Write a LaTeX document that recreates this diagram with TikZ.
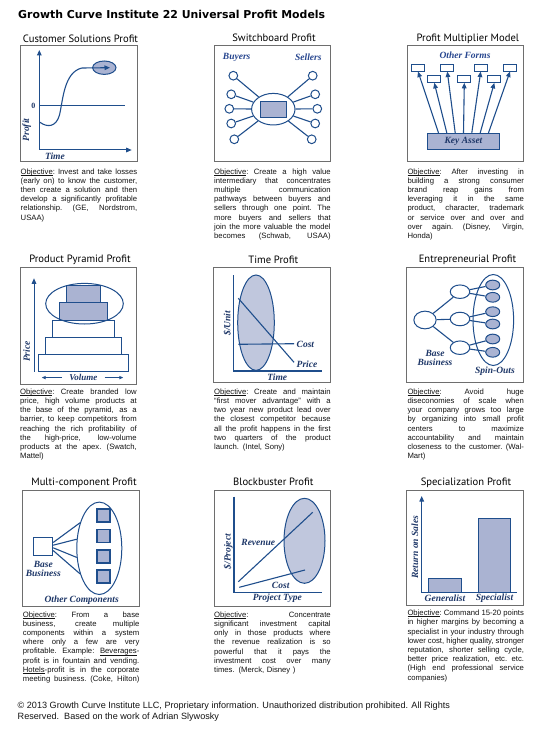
\documentclass[tikz,border=0pt]{standalone}
\usepackage{fontspec}
\setmainfont{Liberation Sans}
\newfontfamily\titlefont{DejaVu Sans}
\newfontfamily\headfont{PT Sans}
\newfontfamily\labfont{Liberation Serif}
\usetikzlibrary{arrows.meta,shapes.geometric}
\definecolor{lb}{HTML}{1F4E8C}
\definecolor{fillb}{HTML}{AAB3D2}
\definecolor{fillc}{HTML}{C0C7DD}
\definecolor{framec}{HTML}{6E6E6E}
\definecolor{navy}{HTML}{1E3768}
\definecolor{labblue}{HTML}{27468F}
\definecolor{txtc}{HTML}{141414}
\newlength\tw \setlength\tw{116.5pt}
\newcommand\jl[1]{\leavevmode\hbox to\tw{\spaceskip=0.278em plus 6em minus 0.08em\xspaceskip=\spaceskip #1}}
\newcommand\ul[1]{\setbox0=\hbox{#1}\rlap{\rule[-1.2pt]{\wd0}{0.5pt}}\box0}
\tikzset{
  panel/.style={draw=framec, line width=0.8pt, fill=white},
  ptitle/.style={font=\headfont\fontsize{10.6}{11}\selectfont, text=black, inner sep=0},
  body/.style={anchor=north west, inner sep=0, text width=\tw, align=left, font=\fontsize{7.7}{9.2}\selectfont, text=txtc},
  lab/.style={font=\labfont\bfseries\itshape\fontsize{9.5}{9}\selectfont, text=navy, inner sep=0, align=center},
  ln/.style={draw=lb, line width=1.1pt},
  arr/.style={ln, -{Triangle[length=5.5pt,width=4.6pt]}},
  sarr/.style={ln, line width=0.9pt, -{Triangle[length=4pt,width=3.2pt]}},
  circ/.style={circle, draw=lb, line width=1pt, fill=white, minimum size=8.7pt, inner sep=0},
  fbox/.style={rectangle, draw=lb, line width=1pt, fill=white, minimum width=12.7pt, minimum height=6.7pt, inner sep=0},
  oval/.style={ellipse, draw=lb, line width=1pt, fill=white, inner sep=0},
  spin/.style={ellipse, draw=lb, line width=1pt, fill=fillb, minimum width=14pt, minimum height=9.7pt, inner sep=0},
  sq/.style={rectangle, draw=lb, line width=1.5pt, fill=fillb, minimum size=13pt, inner sep=0},
  stepbox/.style={draw=lb, line width=1pt},
}
\begin{document}
\begin{tikzpicture}[x=1pt,y=-1pt]
\fill[white] (0,0) rectangle (547,735);
\useasboundingbox (0,0) rectangle (547,735);

\node[anchor=west, inner sep=0, font=\titlefont\bfseries\fontsize{10.9}{12}\selectfont] (title) at (18,14.5) {Growth Curve Institute 22 Universal Profit Models};

% ===== Panel 1 : Customer Solutions =====
\draw[panel] (20,45.7) rectangle (137,161.7);
\node[ptitle] (h1) at (80.5,38.5) {Customer Solutions Profit};
\node[ellipse, draw=lb, fill=fillb, line width=1pt, minimum width=23.4pt, minimum height=13.4pt, inner sep=0] (goal) at (104.3,67.7) {};
\coordinate (o1) at (39.3,150);
\coordinate (y1) at (39.3,50);
\coordinate (x1) at (131.7,150);
\coordinate (z0) at (39.3,105.7);
\coordinate (z1) at (125,105.7);
\coordinate (g1) at (110,67.7);
\draw[ln] (z0) -- (z1);
\draw[arr, line width=1pt] (o1) -- (y1);
\draw[arr, line width=1pt] (o1) -- (x1);
\draw[arr] (40,122.3) .. controls (47,127.5) and (56,127.5) .. (59.5,115) .. controls (63,100) and (64,72) .. (82,68) -- (g1);
\node[font=\labfont\bfseries\fontsize{8}{8}\selectfont, text=navy, inner sep=0] (zero) at (33.3,105.7) {0};
\node[lab, rotate=90] (profit) at (26.7,130) {Profit};
\node[lab] (time1) at (55,156) {Time};
\node[body] (t1) at (20.5,168.3) {\jl{\ul{Objective}: Invest and take losses}\\
\jl{(early on) to know the customer,}\\
\jl{then create a solution and then}\\
\jl{develop a significantly profitable}\\
\jl{relationship. (GE, Nordstrom,}\\
USAA)};

% ===== Panel 2 : Switchboard =====
\draw[panel] (214,45.7) rectangle (330.7,161.5);
\node[ptitle] (h2) at (274,38) {Switchboard Profit};
\node[lab, text=labblue] (buy) at (236.7,57.7) {Buyers};
\node[lab, text=labblue] (sell) at (308.3,57.7) {Sellers};
\node[oval, minimum width=43.4pt, minimum height=31.6pt] (hub) at (273.3,109.2) {};
\node[draw=lb, fill=fillb, line width=1pt, minimum width=26pt, minimum height=15.6pt, inner sep=0] (sw) at (273.7,109.5) {};
\node[circ] (l1) at (233.3,75.7) {};
\node[circ] (l2) at (231.2,94.3) {};
\node[circ] (l3) at (229.3,108.8) {};
\node[circ] (l4) at (231.2,123.5) {};
\node[circ] (l5) at (234.3,139.3) {};
\node[circ] (r1) at (312.7,75.7) {};
\node[circ] (r2) at (315.2,94.3) {};
\node[circ] (r3) at (317.3,108.8) {};
\node[circ] (r4) at (315.2,123.5) {};
\node[circ] (r5) at (311.7,139.3) {};
\foreach \i in {1,...,5} {\draw[ln] (l\i) -- (hub); \draw[ln] (r\i) -- (hub);}
\node[body] (t2) at (214,168.3) {\jl{\ul{Objective}: Create a high value}\\
\jl{intermediary that concentrates}\\
\jl{multiple communication}\\
\jl{pathways between buyers and}\\
\jl{sellers through one point. The}\\
\jl{more buyers and sellers that}\\
\jl{join the more valuable the model}\\
\jl{becomes (Schwab, USAA)}};

% ===== Panel 3 : Profit Multiplier =====
\draw[panel] (407,45.7) rectangle (523,161);
\node[ptitle] (h3) at (467.8,38.5) {Profit Multiplier Model};
\node[lab, text=labblue] (of) at (465,55.5) {Other Forms};
\node[fbox] (f1) at (418,67.7) {};
\node[fbox] (f3) at (447.3,67.7) {};
\node[fbox] (f5) at (480.7,67.7) {};
\node[fbox] (f7) at (510,67.7) {};
\node[fbox] (f2) at (434.3,79) {};
\node[fbox] (f4) at (464.3,79) {};
\node[fbox] (f6) at (494.3,79) {};
\node[lab, draw=lb, fill=fillb, line width=1pt, minimum width=72.6pt, minimum height=15.7pt] (ka) at (463.5,141.2) {Key Asset};
\foreach \t/\dx in {f1/-25pt, f2/-16.7pt, f3/-8.3pt, f4/0pt, f5/8.3pt, f6/16.7pt, f7/25pt}
  \draw[arr] ([xshift=\dx]ka.north) -- (\t.south);
\node[body] (t3) at (407.3,168.3) {\jl{\ul{Objective}: After investing in}\\
\jl{building a strong consumer}\\
\jl{brand reap gains from}\\
\jl{leveraging it in the same}\\
\jl{product, character, trademark}\\
\jl{or service over and over and}\\
\jl{over again. (Disney, Virgin,}\\
Honda)};

% ===== Panel 4 : Product Pyramid =====
\draw[panel] (20,267.7) rectangle (136.7,384);
\node[ptitle] (h4) at (80,260) {Product Pyramid Profit};
\draw[stepbox, fill=white] (38.3,354) rectangle (128.3,371);
\draw[stepbox, fill=white] (45.7,337.3) rectangle (121,354);
\draw[stepbox, fill=white] (52.3,320) rectangle (114.3,337.3);
\draw[stepbox, fill=fillb] (59.3,302.3) rectangle (107.3,320);
\draw[stepbox, fill=fillb] (66,285.7) rectangle (100.7,302.3);
\draw[ln, line width=1pt] (84.5,303.7) ellipse [x radius=38.8pt, y radius=20.3pt];
\coordinate (o4) at (34,371.7);
\coordinate (y4) at (34,278.3);
\draw[arr, line width=1pt] (o4) -- (y4);
\node[lab, rotate=90] (price4) at (26.7,351.7) {Price};
\node[lab, font=\labfont\bfseries\itshape\fontsize{9}{9}\selectfont] (vol) at (83.3,377.6) {Volume};
\coordinate (vl) at (41.7,377.6);
\coordinate (vr) at (123.3,377.6);
\draw[sarr] ([xshift=-7pt]vol.west) -- (vl);
\draw[sarr] ([xshift=7pt]vol.east) -- (vr);
\node[body] (t4) at (20,388.5) {\jl{\ul{Objective}: Create branded low}\\
\jl{price, high volume products at}\\
\jl{the base of the pyramid, as a}\\
\jl{barrier, to keep competitors from}\\
\jl{reaching the rich profitability of}\\
\jl{the high-price, low-volume}\\
\jl{products at the apex. (Swatch,}\\
Mattel)};

% ===== Panel 5 : Time Profit =====
\draw[panel] (213.5,267.7) rectangle (330.7,382.7);
\node[ptitle] (h5) at (273.3,259.5) {Time Profit};
\draw[ln, line width=1pt, fill=fillc] (256,322.7) ellipse [x radius=18.3pt, y radius=47.7pt];
\coordinate (p5a) at (238.3,298.3);
\coordinate (p5b) at (294,362.3);
\coordinate (c5a) at (238.3,344.3);
\coordinate (c5b) at (294,343.7);
\draw[ln] (p5a) -- (p5b);
\draw[ln] (c5a) -- (c5b);
\draw[ln] (233.3,275) -- (233.3,371) -- (321.7,371);
\node[lab, rotate=90] (unit) at (227.3,323.3) {\$/Unit};
\node[lab] (time5) at (277.3,377) {Time};
\node[lab, anchor=west] (cost5) at (296.5,344.3) {Cost};
\node[lab, anchor=west] (price5) at (296.5,364) {Price};
\node[body] (t5) at (214,388.5) {\jl{\ul{Objective}: Create and maintain}\\
\jl{“first mover advantage” with a}\\
\jl{two year new product lead over}\\
\jl{the closest competitor because}\\
\jl{all the profit happens in the first}\\
\jl{two quarters of the product}\\
launch. (Intel, Sony)};

% ===== Panel 6 : Entrepreneurial =====
\draw[panel] (406.7,267.7) rectangle (523.3,382.7);
\node[ptitle] (h6) at (467.5,259.5) {Entrepreneurial Profit};
\draw[ln, line width=1pt] (493.3,320) ellipse [x radius=20.3pt, y radius=45.5pt];
\node[oval, minimum width=22.3pt, minimum height=17.7pt] (bs) at (425,320) {};
\node[oval, minimum width=19.5pt, minimum height=13.5pt] (m1) at (460,291.7) {};
\node[oval, minimum width=19.5pt, minimum height=13.5pt] (m2) at (460,319) {};
\node[oval, minimum width=19.5pt, minimum height=13.5pt] (m3) at (460,347.7) {};
\node[spin] (s1) at (492.7,285) {};
\node[spin] (s2) at (492.7,297.3) {};
\node[spin] (s3) at (492.7,311.7) {};
\node[spin] (s4) at (492.7,324) {};
\node[spin] (s5) at (492.7,339) {};
\node[spin] (s6) at (492.7,352.3) {};
\draw[ln] (bs) -- (m1);
\draw[ln] (bs) -- (m2);
\draw[ln] (bs) -- (m3);
\draw[ln] (m1) -- (s1);
\draw[ln] (m1) -- (s2);
\draw[ln] (m2) -- (s3);
\draw[ln] (m2) -- (s4);
\draw[ln] (m3) -- (s5);
\draw[ln] (m3) -- (s6);
\node[lab] (bb6) at (435,357.8) {Base\\Business};
\node[lab] (so) at (495,371) {Spin-Outs};
\node[body] (t6) at (407.3,388.5) {\jl{\ul{Objective}: Avoid huge}\\
\jl{diseconomies of scale when}\\
\jl{your company grows too large}\\
\jl{by organizing into small profit}\\
\jl{centers to maximize}\\
\jl{accountability and maintain}\\
\jl{closeness to the customer. (Wal-}\\
Mart)};

% ===== Panel 7 : Multi-component =====
\draw[panel] (22.7,490.7) rectangle (139.3,606.7);
\node[ptitle] (h7) at (84,482.7) {Multi-component Profit};
\node[oval, minimum width=45pt, minimum height=92.4pt] (oc) at (99.3,548.3) {};
\node[sq] (q1) at (103.3,515.7) {};
\node[sq] (q2) at (103.3,536) {};
\node[sq] (q3) at (103.3,556.7) {};
\node[sq] (q4) at (103.3,576.7) {};
\node[rectangle, draw=lb, line width=1pt, fill=white, minimum width=18.7pt, minimum height=18.4pt, inner sep=0] (bb) at (43.3,546.5) {};
\draw[ln] ([yshift=4pt]bb.east) -- (oc.127);
\draw[ln] ([yshift=1.3pt]bb.east) -- (oc.158);
\draw[ln] ([yshift=-1.3pt]bb.east) -- (oc.202);
\draw[ln] ([yshift=-4pt]bb.east) -- (oc.233);
\node[lab] (bb7) at (43.3,568.7) {Base\\Business};
\node[lab] (ocl) at (81.7,600.7) {Other Components};
\node[body] (t7) at (22.7,611.3) {\jl{\ul{Objective}: From a base}\\
\jl{business, create multiple}\\
\jl{components within a system}\\
\jl{where only a few are very}\\
\jl{profitable. Example: \ul{Beverages}-}\\
\jl{profit is in fountain and vending.}\\
\jl{\ul{Hotels}-profit is in the corporate}\\
\jl{meeting business. (Coke, Hilton)}};

% ===== Panel 8 : Blockbuster =====
\draw[panel] (214,490) rectangle (330,606);
\node[ptitle] (h8) at (273.3,481.7) {Blockbuster Profit};
\draw[ln, line width=1pt, fill=fillc] (304.5,540.8) ellipse [x radius=20.5pt, y radius=42.5pt];
\coordinate (r8a) at (238.3,581.7);
\coordinate (r8b) at (312.7,512.3);
\coordinate (c8a) at (239.3,587.3);
\coordinate (c8b) at (305,570);
\draw[ln] (r8a) -- (r8b);
\draw[ln] (c8a) -- (c8b);
\draw[ln] (234,496.7) -- (234,592.7) -- (321.7,592.7);
\node[lab, rotate=90] (proj) at (228.3,551.7) {\$/Project};
\node[lab] (ptype) at (277.3,598.3) {Project Type};
\node[lab] (rev) at (258.3,542.3) {Revenue};
\node[lab] (cost8) at (280.7,585) {Cost};
\node[body] (t8) at (214,611.5) {\jl{\ul{Objective}: Concentrate}\\
\jl{significant investment capital}\\
\jl{only in those products where}\\
\jl{the revenue realization is so}\\
\jl{powerful that it pays the}\\
\jl{investment cost over many}\\
times. (Merck, Disney )};

% ===== Panel 9 : Specialization =====
\draw[panel] (406.7,490) rectangle (523.3,605);
\node[ptitle] (h9) at (466,482.7) {Specialization Profit};
\draw[stepbox, fill=fillb] (428.3,578.3) rectangle (461,592.7);
\draw[stepbox, fill=fillb] (478.3,518.3) rectangle (510.7,592.7);
\coordinate (o9) at (421.7,592.7);
\coordinate (y9) at (421.7,496);
\coordinate (x9) at (516.7,592.7);
\draw[ln, line width=1pt] (o9) -- (x9);
\draw[arr, line width=1pt] (o9) -- (y9);
\node[lab, rotate=90] (ros) at (415,547.3) {Return on Sales};
\node[lab] (gen) at (445,598.5) {Generalist};
\node[lab] (spec) at (494.5,598.5) {Specialist};
\node[body] (t9) at (407.3,610) {\jl{\ul{Objective}: Command 15-20 points}\\
\jl{in higher margins by becoming a}\\
\jl{specialist in your industry through}\\
\jl{lower cost, higher quality, stronger}\\
\jl{reputation, shorter selling cycle,}\\
\jl{better price realization, etc. etc.}\\
\jl{(High end professional service}\\
companies)};

% ===== Footer =====
\node[anchor=north west, inner sep=0, align=left, font=\fontsize{9.1}{11}\selectfont, text=txtc] (foot) at (17.5,702) {© 2013 Growth Curve Institute LLC, Proprietary information. Unauthorized distribution prohibited. All Rights\\Reserved.\ \ Based on the work of Adrian Slywosky};
\end{tikzpicture}
\end{document}
